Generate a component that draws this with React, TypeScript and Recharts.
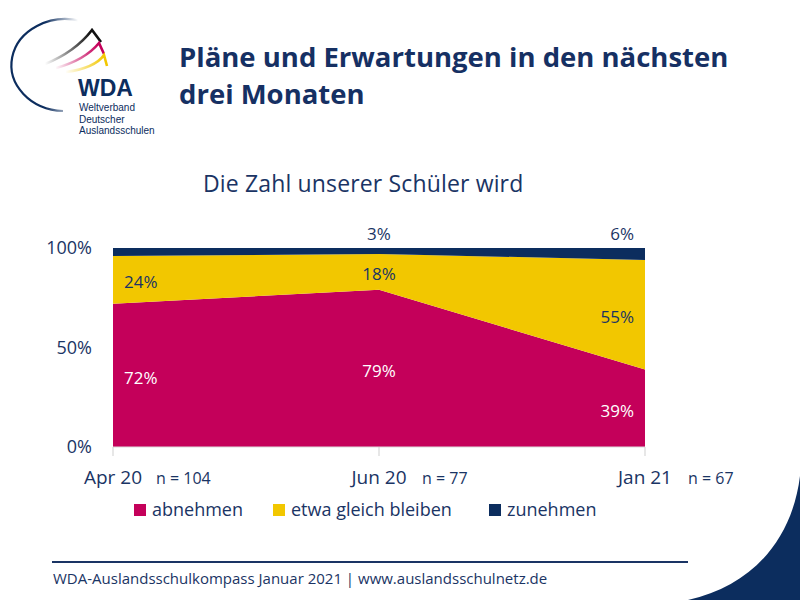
import React from "react";
import {
  ComposedChart,
  Area,
  Line,
  XAxis,
  YAxis,
  LabelList,
} from "recharts";

const periods = ["Apr 20", "Jun 20", "Jan 21"];
const sampleSizes = ["n = 104", "n = 77", "n = 67"];
const abnehmen = [72, 79, 39];
const gleichBleiben = [24, 18, 55];
const zunehmen = [4, 3, 6];
const zunehmenShown = [false, true, true];
const yTicks = [0, 50, 100];

const legendItems = [
  { name: "abnehmen", color: "#c4005a" },
  { name: "etwa gleich bleiben", color: "#f2c700" },
  { name: "zunehmen", color: "#0c2d5e" },
];

const logoLines = ["Weltverband", "Deutscher", "Auslandsschulen"];

const NAVY = "#1a3464";
const FONT = "'Open Sans', sans-serif";
const LOGO_FONT = "'Liberation Sans', Arial, sans-serif";

const data = periods.map((period, i) => ({
  period,
  n: sampleSizes[i],
  abnehmen: abnehmen[i],
  gleich: gleichBleiben[i],
  zunehmen: zunehmen[i],
  // label anchors: middle of each band, top of stack
  midA: abnehmen[i] / 2,
  midG: abnehmen[i] + gleichBleiben[i] / 2,
  top: abnehmen[i] + gleichBleiben[i] + zunehmen[i],
}));

function makeLabel(values: number[], color: string, dy: number, shown?: boolean[]) {
  return (props: any) => {
    const { x, y, index } = props;
    if (shown && !shown[index]) return null;
    const xn = Number(x);
    const yn = Number(y);
    let anchor: "start" | "middle" | "end" = "middle";
    let tx = xn;
    if (index === 0) {
      anchor = "start";
      tx = xn + 11;
    } else if (index === data.length - 1) {
      anchor = "end";
      tx = xn - 11;
    }
    return (
      <text
        x={tx}
        y={yn + dy}
        textAnchor={anchor}
        dominantBaseline="central"
        fill={color}
        fontSize={17}
        fontFamily={FONT}
      >
        {`${values[index]}%`}
      </text>
    );
  };
}

const PeriodTick = (props: any) => {
  const { x, y, payload, index } = props;
  return (
    <g>
      <text x={x} y={y + 26} textAnchor="middle" fill={NAVY} fontSize={19} fontFamily={FONT}>
        {payload.value}
      </text>
      <text x={x + 43} y={y + 26} textAnchor="start" fill={NAVY} fontSize={16} fontFamily={FONT}>
        {sampleSizes[index]}
      </text>
    </g>
  );
};

function Decorations() {
  return (
    <svg width={800} height={600} style={{ position: "absolute", left: 0, top: 0 }}>
      <defs>
        <linearGradient id="arcFade" gradientUnits="userSpaceOnUse" x1={18} y1={0} x2={78} y2={0}>
          <stop offset="0.45" stopColor="#0c2d5e" stopOpacity={1} />
          <stop offset="1" stopColor="#0c2d5e" stopOpacity={0} />
        </linearGradient>
        <linearGradient id="blackFade" gradientUnits="userSpaceOnUse" x1={45} y1={0} x2={90} y2={0}>
          <stop offset="0" stopColor="#111" stopOpacity={0} />
          <stop offset="1" stopColor="#111" stopOpacity={1} />
        </linearGradient>
        <linearGradient id="redFade" gradientUnits="userSpaceOnUse" x1={55} y1={0} x2={98} y2={0}>
          <stop offset="0" stopColor="#c4005a" stopOpacity={0} />
          <stop offset="1" stopColor="#c4005a" stopOpacity={1} />
        </linearGradient>
        <linearGradient id="goldFade" gradientUnits="userSpaceOnUse" x1={65} y1={0} x2={104} y2={0}>
          <stop offset="0" stopColor="#f2c700" stopOpacity={0} />
          <stop offset="1" stopColor="#f2c700" stopOpacity={1} />
        </linearGradient>
      </defs>

      {/* logo */}
      <path d="M 81 21 A 54 46 0 1 0 63 111" fill="none" stroke="url(#arcFade)" strokeWidth={2.2} />
      <path d="M 45 64 Q 75 52 92 30 L 101 42" fill="none" stroke="url(#blackFade)" strokeWidth={2.6} />
      <path d="M 56 68 Q 85 60 99 43 L 104 54" fill="none" stroke="url(#redFade)" strokeWidth={2.6} />
      <path d="M 66 72 Q 95 68 104 55 L 107 66" fill="none" stroke="url(#goldFade)" strokeWidth={2.6} />
      <text x={78} y={96} fill="#0c2d5e" fontSize={23} fontWeight={700} fontFamily={LOGO_FONT}>
        WDA
      </text>
      {logoLines.map((l, i) => (
        <text key={l} x={79} y={111 + i * 11.6} fill="#0c2d5e" fontSize={10} fontFamily={LOGO_FONT}>
          {l}
        </text>
      ))}

      {/* title */}
      <text fill="#163063" fontSize={27.5} fontWeight={700} fontFamily={FONT}>
        <tspan x={179} y={67}>Pläne und Erwartungen in den nächsten</tspan>
        <tspan x={179} y={104}>drei Monaten</tspan>
      </text>
      <text x={203} y={192} fill={NAVY} fontSize={23} letterSpacing={0.15} fontFamily={FONT}>
        Die Zahl unserer Schüler wird
      </text>

      {/* legend */}
      {legendItems.map((item, i) => {
        const lx = [134, 273, 489][i];
        return (
          <g key={item.name}>
            <rect x={lx} y={504} width={12} height={12} fill={item.color} />
            <text x={lx + 18} y={516} fill={NAVY} fontSize={18} fontFamily={FONT}>
              {item.name}
            </text>
          </g>
        );
      })}

      {/* footer */}
      <line x1={52} y1={562} x2={688} y2={562} stroke="#1a3464" strokeWidth={2} />
      <text x={53} y={584} fill={NAVY} fontSize={15} fontFamily={FONT}>
        WDA-Auslandsschulkompass Januar 2021 | www.auslandsschulnetz.de
      </text>
      <path d="M 800 476 C 792 540 752 586 688 600 L 800 600 Z" fill="#0c2d5e" />
    </svg>
  );
}

export default function App() {
  return (
    <div
      style={{
        position: "absolute",
        left: 0,
        top: 0,
        width: 800,
        height: 600,
        background: "#fff",
        overflow: "hidden",
      }}
    >
      <Decorations />
      <div style={{ position: "absolute", left: 0, top: 0 }}>
        <ComposedChart
          width={800}
          height={600}
          data={data}
          margin={{ top: 248, right: 155, bottom: 113, left: 53 }}
        >
          <XAxis
            dataKey="period"
            height={40}
            tickSize={9}
            tickLine={{ stroke: "#cfcfcf" }}
            axisLine={{ stroke: "#dcdcdc" }}
            tick={<PeriodTick />}
            interval={0}
          />
          <YAxis
            width={60}
            domain={[0, 100]}
            ticks={yTicks}
            tickFormatter={(v) => `${v}%`}
            axisLine={false}
            tickLine={false}
            tickMargin={15}
            tick={{ fill: NAVY, fontSize: 18, fontFamily: FONT }}
          />
          <Area
            type="linear"
            dataKey="abnehmen"
            stackId="s"
            fill="#c4005a"
            stroke="none"
            fillOpacity={1}
            isAnimationActive={false}
          />
          <Area
            type="linear"
            dataKey="gleich"
            stackId="s"
            fill="#f2c700"
            stroke="none"
            fillOpacity={1}
            isAnimationActive={false}
          />
          <Area
            type="linear"
            dataKey="zunehmen"
            stackId="s"
            fill="#0c2d5e"
            stroke="none"
            fillOpacity={1}
            isAnimationActive={false}
          />
          <Line dataKey="midA" stroke="none" dot={false} activeDot={false} isAnimationActive={false} legendType="none">
            <LabelList dataKey="midA" content={makeLabel(abnehmen, "#ffffff", 2)} />
          </Line>
          <Line dataKey="midG" stroke="none" dot={false} activeDot={false} isAnimationActive={false} legendType="none">
            <LabelList dataKey="midG" content={makeLabel(gleichBleiben, NAVY, 2)} />
          </Line>
          <Line dataKey="top" stroke="none" dot={false} activeDot={false} isAnimationActive={false} legendType="none">
            <LabelList dataKey="top" content={makeLabel(zunehmen, NAVY, -15, zunehmenShown)} />
          </Line>
        </ComposedChart>
      </div>
    </div>
  );
}
